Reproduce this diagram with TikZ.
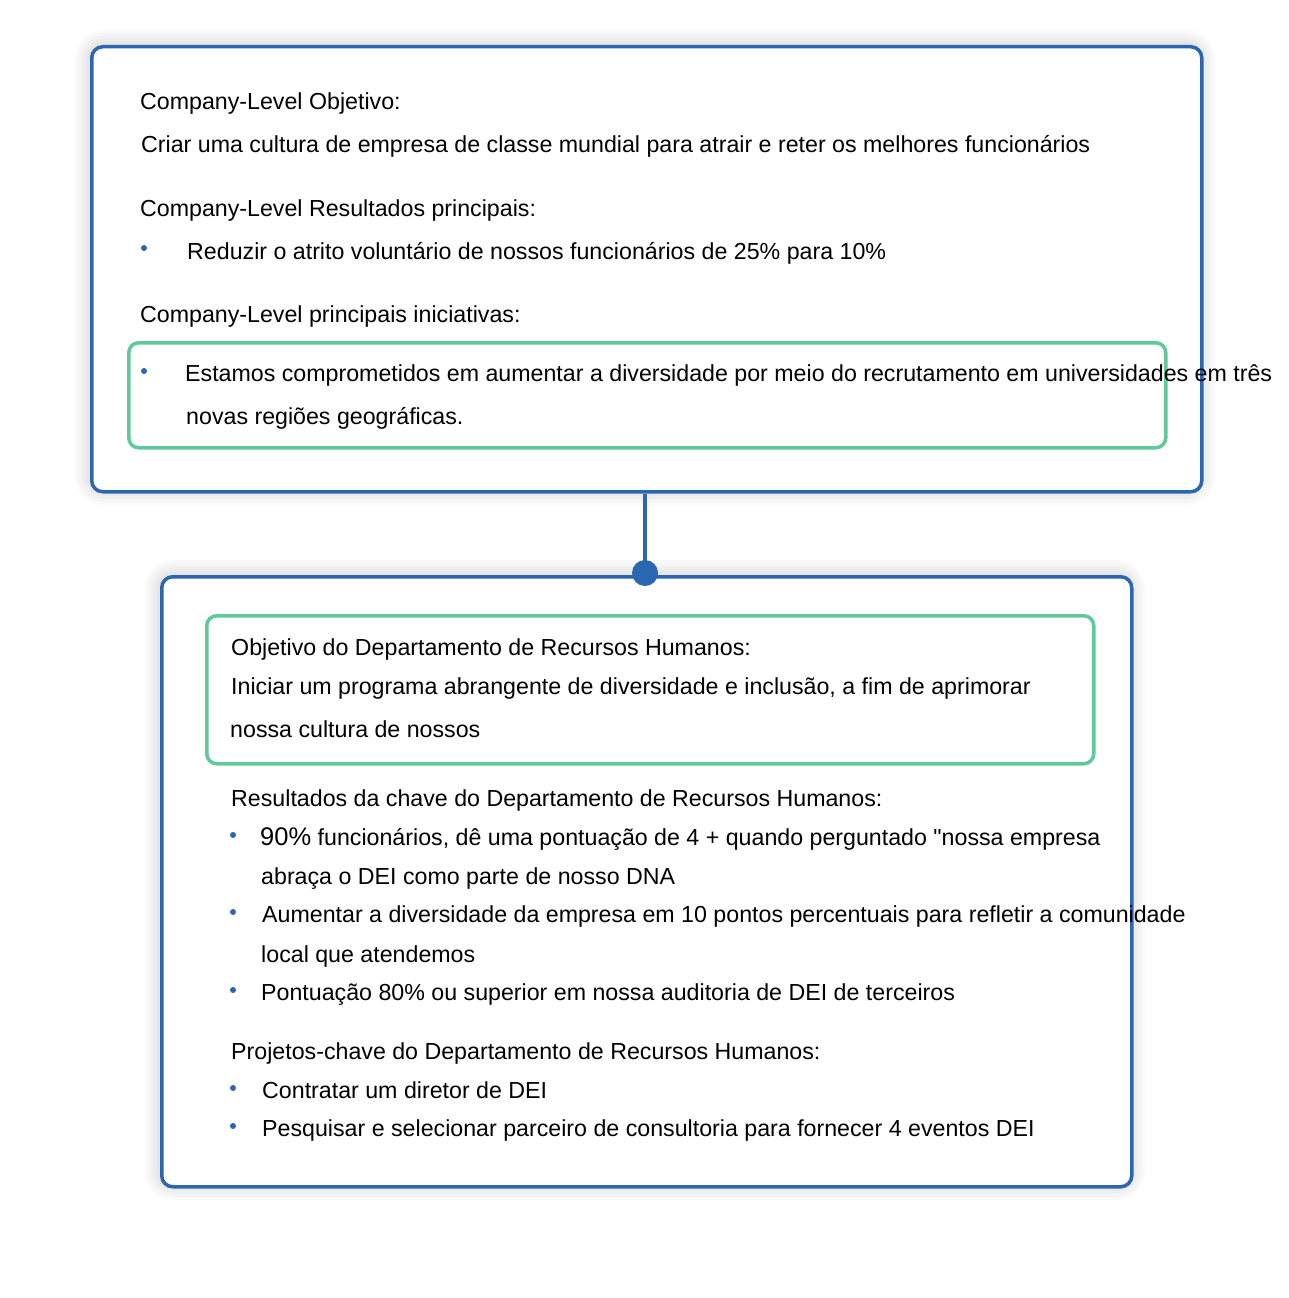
\documentclass[tikz,border=0pt]{standalone}
\usepackage{fontspec}
\setmainfont{Liberation Sans}[Ligatures=TeXOff]
\definecolor{boxblue}{RGB}{43,103,176}
\definecolor{boxgreen}{RGB}{94,201,154}
\definecolor{txt}{RGB}{0,0,0}
\begin{document}
\begin{tikzpicture}[x=1pt,y=-1pt,
  bluebox/.style={draw=boxblue,line width=3.5pt,rounded corners=11pt,fill=white},
  greenbox/.style={draw=boxgreen,line width=3.5pt,rounded corners=10pt},
  tx/.style={anchor=base west,inner sep=0pt,font=\fontsize{23.2}{26}\selectfont,text=txt},
  dot/.style={circle,fill=boxblue,inner sep=0pt,minimum size=6pt},
  glow/.style={draw=black,opacity=0.018,rounded corners=14pt}]
\useasboundingbox (0,0) rectangle (1288,1298);
\fill[white] (0,0) rectangle (1288,1298);
% soft shadows
\foreach \w in {6,12,18,24,30}{
  \draw[glow,line width=\w pt] (90,45) rectangle (1200,490);
  \draw[glow,line width=\w pt] (160,575) rectangle (1130,1185);
}
% top box
\node[bluebox,minimum width=1110pt,minimum height=445pt,anchor=north west,inner sep=0pt] (top) at (90,45) {};
\node[greenbox,minimum width=1037pt,minimum height=105pt,anchor=north west,inner sep=0pt] (topgreen) at (127,341) {};
% bottom box
\node[bluebox,minimum width=970pt,minimum height=610pt,anchor=north west,inner sep=0pt] (bot) at (160,575) {};
\node[greenbox,minimum width=887pt,minimum height=148pt,anchor=north west,inner sep=0pt] (botgreen) at (205,614) {};
% connector
\node[circle,fill=boxblue,inner sep=0pt,minimum size=26pt] (joint) at (645,573) {};
\draw[boxblue,line width=3.5pt] (top.south -| joint) -- (joint.center);
% top texts
\node[tx] (t1) at (140,109) {Company-Level Objetivo:};
\node[tx] (t2) at (141,152) {Criar uma cultura de empresa de classe mundial para atrair e reter os melhores funcionários};
\node[tx] (t3) at (140,216) {Company-Level Resultados principais:};
\node[dot] (b1) at (144,248) {};
\node[tx] (t4) at (187,259) {Reduzir o atrito voluntário de nossos funcionários de 25\% para 10\%};
\node[tx] (t5) at (140,322) {Company-Level principais iniciativas:};
\node[dot] (b2) at (144,371) {};
\node[tx] (t6) at (185,381) {Estamos comprometidos em aumentar a diversidade por meio do recrutamento em universidades em três};
\node[tx] (t7) at (186,424) {novas regiões geográficas.};
% bottom texts
\node[tx] (u1) at (231,655) {Objetivo do Departamento de Recursos Humanos:};
\node[tx] (u2) at (231,694) {Iniciar um programa abrangente de diversidade e inclusão, a fim de aprimorar};
\node[tx] (u3) at (230,737) {nossa cultura de nossos};
\node[tx] (u4) at (231,806) {Resultados da chave do Departamento de Recursos Humanos:};
\node[dot] (c1) at (233,835) {};
\node[tx] (u5) at (260,845) {{\fontsize{25.5}{26}\selectfont 90\%} funcionários, dê uma pontuação de 4 + quando perguntado "nossa empresa};
\node[tx] (u6) at (261,884) {abraça o DEI como parte de nosso DNA};
\node[dot] (c2) at (233,912) {};
\node[tx] (u7) at (262,922) {Aumentar a diversidade da empresa em 10 pontos percentuais para refletir a comunidade};
\node[tx] (u8) at (261,962) {local que atendemos};
\node[dot] (c3) at (233,990) {};
\node[tx] (u9) at (261,1000) {Pontuação 80\% ou superior em nossa auditoria de DEI de terceiros};
\node[tx] (u10) at (231,1059) {Projetos-chave do Departamento de Recursos Humanos:};
\node[dot] (c4) at (233,1088) {};
\node[tx] (u11) at (262,1098) {Contratar um diretor de DEI};
\node[dot] (c5) at (233,1126) {};
\node[tx] (u12) at (262,1136) {Pesquisar e selecionar parceiro de consultoria para fornecer 4 eventos DEI};
\end{tikzpicture}
\end{document}
